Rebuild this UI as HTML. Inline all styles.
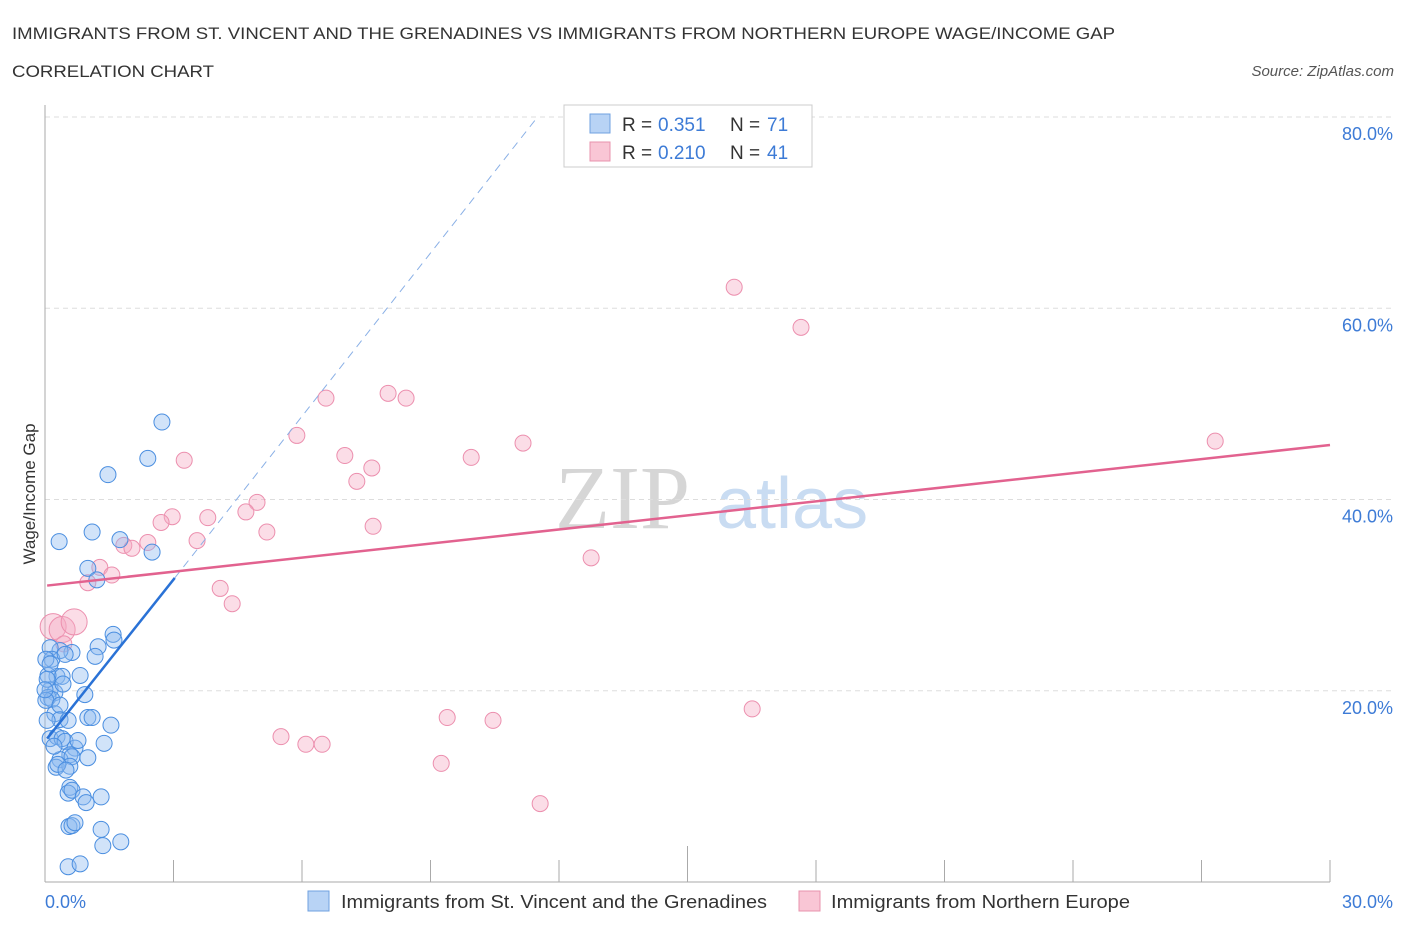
<!DOCTYPE html>
<html><head><meta charset="utf-8"><style>
body{margin:0;background:#fff;font-family:"Liberation Sans",sans-serif;}
</style></head><body>
<svg width="1406" height="930" xmlns="http://www.w3.org/2000/svg" font-family="Liberation Sans, sans-serif">
<text x="12" y="39" font-size="17" fill="#333" textLength="1103" lengthAdjust="spacingAndGlyphs">IMMIGRANTS FROM ST. VINCENT AND THE GRENADINES VS IMMIGRANTS FROM NORTHERN EUROPE WAGE/INCOME GAP</text>
<text x="12" y="77" font-size="17" fill="#333" textLength="202" lengthAdjust="spacingAndGlyphs">CORRELATION CHART</text>
<text x="1394" y="76" font-size="15" fill="#555" font-style="italic" text-anchor="end">Source: ZipAtlas.com</text>
<text x="555" y="528" font-size="90" fill="#d6d6d6" font-family="Liberation Serif, serif">ZIP</text>
<text x="716" y="528" font-size="72" fill="#c9dcf2">atlas</text>
<g id="grid"></g>
<g id="axes"></g>
<g id="pts"></g>
<g id="trend"></g>
<text x="35" y="494" font-size="17" fill="#333" text-anchor="middle" transform="rotate(-90 35 494)">Wage/Income Gap</text>
<text x="45" y="908" font-size="18" fill="#3d7bd6">0.0%</text>
<text x="1393" y="908" font-size="18" fill="#3d7bd6" text-anchor="end">30.0%</text>
<g>
<rect x="564" y="105" width="248" height="62" fill="#fff" stroke="#ccc"/>
<rect x="590" y="114" width="20" height="19" fill="#b8d3f5" stroke="#6fa0e0"/>
<rect x="590" y="142" width="20" height="19" fill="#f9c6d5" stroke="#e893ad"/>
<text x="622" y="131" font-size="19" fill="#333">R =</text>
<text x="658" y="131" font-size="19" fill="#3d7bd6">0.351</text>
<text x="730" y="131" font-size="19" fill="#333">N =</text>
<text x="767" y="131" font-size="19" fill="#3d7bd6">71</text>
<text x="622" y="159" font-size="19" fill="#333">R =</text>
<text x="658" y="159" font-size="19" fill="#3d7bd6">0.210</text>
<text x="730" y="159" font-size="19" fill="#333">N =</text>
<text x="767" y="159" font-size="19" fill="#3d7bd6">41</text>
</g>
<g>
<rect x="308" y="891" width="21" height="20" fill="#b8d3f5" stroke="#6fa0e0"/>
<text x="341" y="908" font-size="18" fill="#333" textLength="426" lengthAdjust="spacingAndGlyphs">Immigrants from St. Vincent and the Grenadines</text>
<rect x="799" y="891" width="21" height="20" fill="#f9c6d5" stroke="#e893ad"/>
<text x="831" y="908" font-size="18" fill="#333" textLength="299" lengthAdjust="spacingAndGlyphs">Immigrants from Northern Europe</text>
</g>
</svg>
<script>
const yTicks=[20,40,60,80];
const yTickLabels=["20.0%","40.0%","60.0%","80.0%"];
const blueX=[0.33,1.10,1.75,2.50,2.73,2.40,1.47,1.00,1.21,1.59,1.61,1.24,1.17,0.63,0.35,0.12,0.16,0.47,0.82,0.28,0.40,0.07,0.12,0.23,0.07,0.16,0.93,0.23,0.35,1.00,1.10,1.54,0.12,0.28,0.40,0.47,1.38,0.70,0.58,0.35,0.63,1.00,0.26,0.58,0.30,0.58,0.54,0.63,0.89,0.96,1.31,0.56,0.63,0.70,1.31,1.77,1.35,0.54,0.82,0.02,0.05,0.02,0.05,0.21,0.00,0.12,0.35,0.42,0.54,0.77,0.49];
const blueY=[35.6,36.6,35.8,34.5,48.1,44.3,42.6,32.8,31.6,25.9,25.3,24.6,23.6,24.0,24.2,24.5,23.3,23.8,21.6,21.5,21.5,21.6,20.1,19.8,19.3,19.1,19.6,17.6,17.0,17.2,17.2,16.4,15.0,15.2,15.0,14.7,14.5,14.0,13.3,12.8,13.1,13.0,12.0,12.1,12.3,9.9,9.3,9.6,8.9,8.3,8.9,5.8,5.9,6.2,5.5,4.2,3.8,1.6,1.9,19.0,16.9,23.3,21.2,14.2,20.1,22.8,18.5,20.7,16.9,14.8,11.7];
const pinkX=[16.09,17.65,8.01,8.43,6.56,5.88,11.16,9.95,27.32,7.00,7.63,7.28,3.25,4.95,4.69,2.97,2.71,3.80,5.18,7.66,3.55,2.40,1.84,2.03,1.28,1.56,1.00,12.75,4.09,4.37,0.19,0.40,0.68,0.44,16.51,9.39,10.46,5.51,6.09,6.47,9.25,11.56];
const pinkY=[62.2,58.0,51.1,50.6,50.6,46.7,45.9,44.4,46.1,44.6,43.3,41.9,44.1,39.7,38.7,38.2,37.6,38.1,36.6,37.2,35.7,35.5,35.2,34.9,32.9,32.1,31.3,33.9,30.7,29.1,26.7,26.4,27.2,24.9,18.1,17.2,16.9,15.2,14.4,14.4,12.4,8.2];
const blueTrend=[[0.05,15.0],[3.03,31.8]];
const blueDash=[[3.03,31.8],[11.5,80]];
const pinkTrend=[[0.05,31.0],[30,45.7]];
const X=v=>45+v/30*1285, Y=v=>882-v*9.5625;
const NS="http://www.w3.org/2000/svg";
function mk(tag,attrs,parent){const e=document.createElementNS(NS,tag);for(const k in attrs)e.setAttribute(k,attrs[k]);document.getElementById(parent).appendChild(e);return e;}
yTicks.forEach((t,i)=>{
 const l=mk("line",{x1:45,x2:1393,y1:Y(t),y2:Y(t),stroke:"#ddd","stroke-dasharray":"5,4"},"grid");
 
 
 const tx=mk("text",{x:1393,y:Y(t)+23,"font-size":18,fill:"#3d7bd6","text-anchor":"end"},"grid");tx.textContent=yTickLabels[i];
 
 
});
let a=mk("line",{x1:45,x2:45,y1:105,y2:882,stroke:"#aaa"},"axes");


a=mk("line",{x1:45,x2:1330,y1:882,y2:882,stroke:"#aaa"},"axes");


for(let i=1;i<=10;i++){
 const t=mk("line",{x1:X(i*3),x2:X(i*3),y1:i==5?846:860,y2:882,stroke:"#aaa"},"axes");
 
 
}
pinkX.forEach((x,i)=>{
 const c=mk("circle",{cx:X(x),cy:Y(pinkY[i]),r:x<0.7&&pinkY[i]>26?13:8,fill:"rgba(246,170,195,0.4)",stroke:"#ec8fae","stroke-width":1},"pts");
 
 
});
blueX.forEach((x,i)=>{
 const c=mk("circle",{cx:X(x),cy:Y(blueY[i]),r:8,fill:"rgba(140,185,240,0.4)",stroke:"#4a8ee0","stroke-width":1},"pts");
 
 
});
let t=mk("line",{x1:X(blueTrend[0][0]),y1:Y(blueTrend[0][1]),x2:X(blueTrend[1][0]),y2:Y(blueTrend[1][1]),stroke:"#2a72d6","stroke-width":2.5},"trend");


t=mk("line",{x1:X(blueDash[0][0]),y1:Y(blueDash[0][1]),x2:X(blueDash[1][0]),y2:Y(blueDash[1][1]),stroke:"#8ab0e6","stroke-width":1,"stroke-dasharray":"8,6"},"trend");


t=mk("line",{x1:X(pinkTrend[0][0]),y1:Y(pinkTrend[0][1]),x2:X(pinkTrend[1][0]),y2:Y(pinkTrend[1][1]),stroke:"#e2628f","stroke-width":2.5},"trend");


</script>
</body></html>
